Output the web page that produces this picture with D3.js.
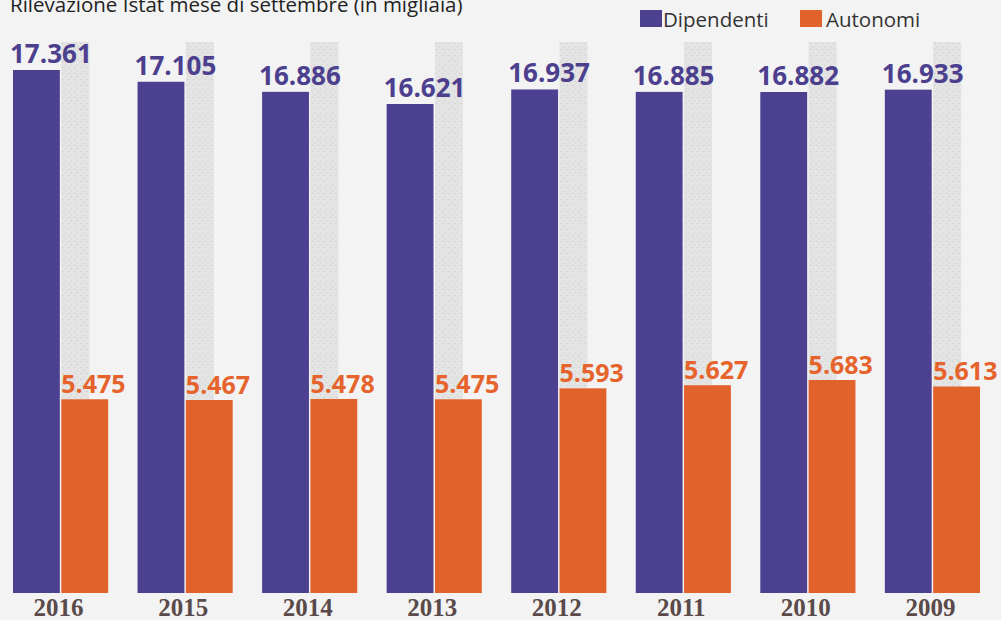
<!DOCTYPE html>
<html>
<head>
<meta charset="utf-8">
<script src="https://cdn.jsdelivr.net/npm/d3@7"></script>
<style>
  html, body { margin: 0; padding: 0; background: #f3f3f3; }
  svg { display: block; }
</style>
</head>
<body>
<svg id="chart" width="1001" height="620"></svg>
<script>
// anni (da sinistra a destra) e valori in migliaia
const years = ['2016', '2015', '2014', '2013', '2012', '2011', '2010', '2009'];
const dipendenti = [17361, 17105, 16886, 16621, 16937, 16885, 16882, 16933];
const autonomi = [5475, 5467, 5478, 5475, 5593, 5627, 5683, 5613];
const seriesNames = ['Dipendenti', 'Autonomi'];

const colors = { Dipendenti: '#4c4190', Autonomi: '#e2622c' };
const labelColors = { Dipendenti: '#4b3f8e', Autonomi: '#e6632b' };

const svg = d3.select('#chart');
const width = 1001;
const height = 620;
const baseY = 593;

svg.append('rect').attr('width', width).attr('height', height).attr('fill', '#f3f3f3');

// texture for the grey columns
const defs = svg.append('defs');
const pat = defs.append('pattern')
  .attr('id', 'speckle')
  .attr('width', 6).attr('height', 6)
  .attr('patternUnits', 'userSpaceOnUse');
pat.append('rect').attr('width', 6).attr('height', 6).attr('fill', '#e4e4e4');
pat.append('rect').attr('x', 1).attr('y', 1).attr('width', 2).attr('height', 1).attr('fill', '#d4d4d4');
pat.append('rect').attr('x', 4).attr('y', 4).attr('width', 1).attr('height', 2).attr('fill', '#d8d8d8');

// title (cut at the top edge as in the scan)
svg.append('text')
  .attr('x', 10)
  .attr('y', 12)
  .attr('font-family', 'Open Sans, sans-serif')
  .attr('font-size', 20.5)
  .attr('fill', '#222')
  .text('Rilevazione Istat mese di settembre (in migliaia)');

// legend
const legend = svg.append('g');
const legendX = [640, 800];
seriesNames.forEach((name, i) => {
  const g = legend.append('g').attr('transform', `translate(${legendX[i]},10)`);
  g.append('rect').attr('width', 22).attr('height', 17).attr('fill', colors[name]);
  g.append('text')
    .attr('x', name === 'Dipendenti' ? 23 : 26)
    .attr('y', 17)
    .attr('font-family', 'Open Sans, sans-serif')
    .attr('font-size', 20.5)
    .attr('fill', '#333')
    .text(name);
});

// scales
const x0 = d3.scaleBand()
  .domain(years)
  .range([13, 980])
  .paddingInner(0.236)
  .paddingOuter(0);

const x1 = d3.scaleBand()
  .domain(seriesNames)
  .range([0, x0.bandwidth()])
  .paddingInner(0.03);

// the printed graphic is not to scale: each series has its own stretched scale
const yDip = d3.scaleLinear().domain([16621, 17361]).range([104, 70]);
const yAut = d3.scaleLinear().domain([5467, 5683]).range([400, 380]);

const rows = years.map((y, i) => ({ year: y, Dipendenti: dipendenti[i], Autonomi: autonomi[i] }));

const groups = svg.selectAll('g.year')
  .data(rows)
  .enter()
  .append('g')
  .attr('class', 'year')
  .attr('transform', (d) => `translate(${x0(d.year)},0)`);

// grey column behind the self-employed bar
groups.append('rect')
  .attr('x', x1('Autonomi'))
  .attr('y', 42)
  .attr('width', 28)
  .attr('height', (d) => yAut(d.Autonomi) - 42)
  .attr('fill', 'url(#speckle)');

groups.append('rect')
  .attr('x', x1('Dipendenti'))
  .attr('y', (d) => yDip(d.Dipendenti))
  .attr('width', x1.bandwidth())
  .attr('height', (d) => baseY - yDip(d.Dipendenti))
  .attr('fill', colors.Dipendenti);

groups.append('rect')
  .attr('x', x1('Autonomi'))
  .attr('y', (d) => yAut(d.Autonomi))
  .attr('width', x1.bandwidth())
  .attr('height', (d) => baseY - yAut(d.Autonomi))
  .attr('fill', colors.Autonomi);

const fmt = (v) => d3.format(',')(v).replace(',', '.');

groups.append('text')
  .attr('x', x1('Dipendenti') - 3)
  .attr('y', (d) => yDip(d.Dipendenti) - 7)
  .attr('font-family', 'Open Sans, sans-serif')
  .attr('font-weight', 'bold')
  .attr('font-size', 26)
  .attr('fill', labelColors.Dipendenti)
  .text((d) => fmt(d.Dipendenti));

groups.append('text')
  .attr('x', x1('Autonomi'))
  .attr('y', (d) => yAut(d.Autonomi) - 6)
  .attr('font-family', 'Open Sans, sans-serif')
  .attr('font-weight', 'bold')
  .attr('font-size', 25)
  .attr('fill', labelColors.Autonomi)
  .text((d) => fmt(d.Autonomi));

// year labels
svg.append('g')
  .selectAll('text')
  .data(years)
  .enter()
  .append('text')
  .attr('x', (d) => x0(d) + x0.bandwidth() / 2 - 2)
  .attr('y', 616)
  .attr('text-anchor', 'middle')
  .attr('font-family', 'Liberation Serif, serif')
  .attr('font-weight', 'bold')
  .attr('font-size', 25)
  .attr('fill', '#5a4a4a')
  .text((d) => d);
</script>
</body>
</html>
